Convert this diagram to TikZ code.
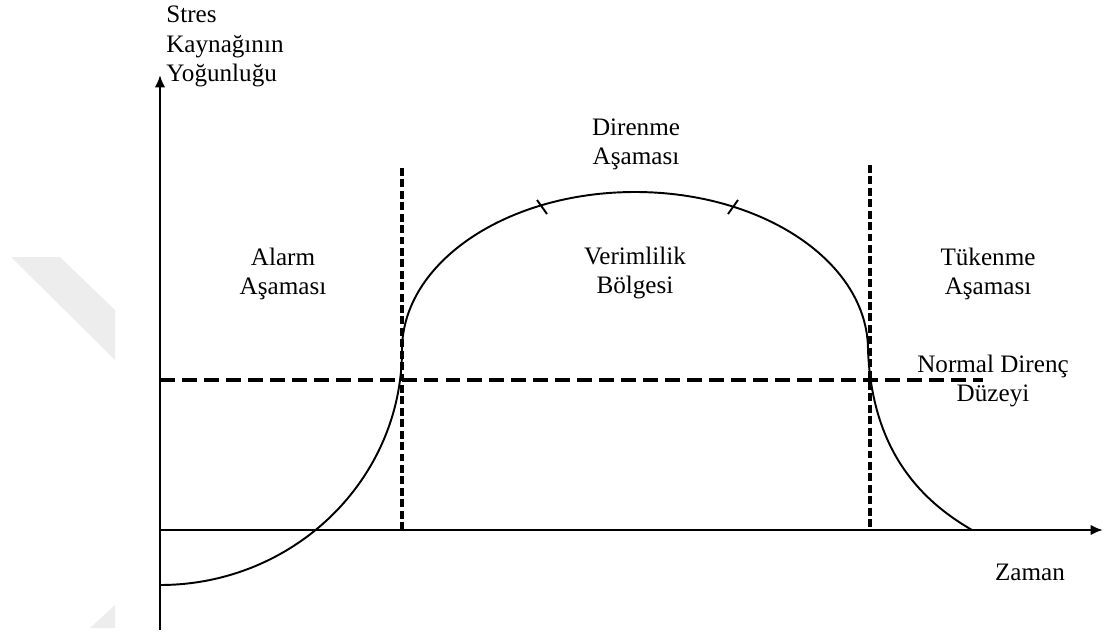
\documentclass[tikz,border=0pt]{standalone}
\usepackage{fontspec}
\setmainfont{Liberation Serif}
\usetikzlibrary{arrows.meta, positioning}

\begin{document}
\begin{tikzpicture}[
    x=0.02cm, y=0.02cm,
    lbl/.style   = {align=center, inner sep=0pt, font=\fontsize{14.3}{16.6}\selectfont},
    axis/.style  = {line width=1.6pt, -{Latex[length=7pt, width=6pt]}},
    hguide/.style = {line width=2pt, dash pattern=on 8.5pt off 4pt},
    vguide/.style = {line width=2pt, dash pattern=on 4.5pt off 2pt},
    curve/.style = {line width=1.1pt},
  ]
  \useasboundingbox (0,0) rectangle (1105,637);
  % faint marks at the left edge
  \fill[black!7] (11,380) -- (60,380) -- (115,327) -- (115,277) -- cycle;
  \fill[black!7] (115,32) -- (115,9) -- (90,9) -- cycle;

  % axes
  \coordinate (ybot) at (160,7);
  \coordinate (ytop) at (160,562);
  \coordinate (orig) at (160,107);
  \coordinate (xend) at (1103,107);
  \draw[axis] (ybot) -- (ytop);
  \draw[axis] (orig) -- (xend);

  % guides
  \coordinate (nleft)  at (160,257);
  \coordinate (nright) at (983,257);
  \coordinate (atop)   at (402,469);
  \coordinate (abot)   at (402,107);
  \coordinate (ttop)   at (870,472);
  \coordinate (tbot)   at (870,107);
  \draw[hguide] (nleft) -- (nright);
  \draw[vguide] (atop) -- (abot);
  \draw[vguide] (ttop) -- (tbot);

  % stress curve
  \draw[curve] (160,52) arc[start angle=-90, end angle=0, x radius=242, y radius=235]
    arc[start angle=180, end angle=0, x radius=233, y radius=158]
    .. controls (872,187) and (920,137) .. (972,107);
  \draw[curve] (537,437) -- (547,423);
  \draw[curve] (728,423) -- (738,437);

  % labels
  \node[lbl, align=left, anchor=north west] (ylab) at (166,631) {Stres\\Kaynağının\\Yoğunluğu};
  \node[lbl] (alarm)  at (283,363) {Alarm\\Aşaması};
  \node[lbl] (diren)  at (636,493) {Direnme\\Aşaması};
  \node[lbl] (verim)  at (635,364) {Verimlilik\\Bölgesi};
  \node[lbl] (tuken)  at (988,363) {Tükenme\\Aşaması};
  \node[lbl] (normal) at (993,256) {Normal Direnç\\Düzeyi};
  \node[lbl] (zaman)  at (1030,65) {Zaman};
\end{tikzpicture}
\end{document}
